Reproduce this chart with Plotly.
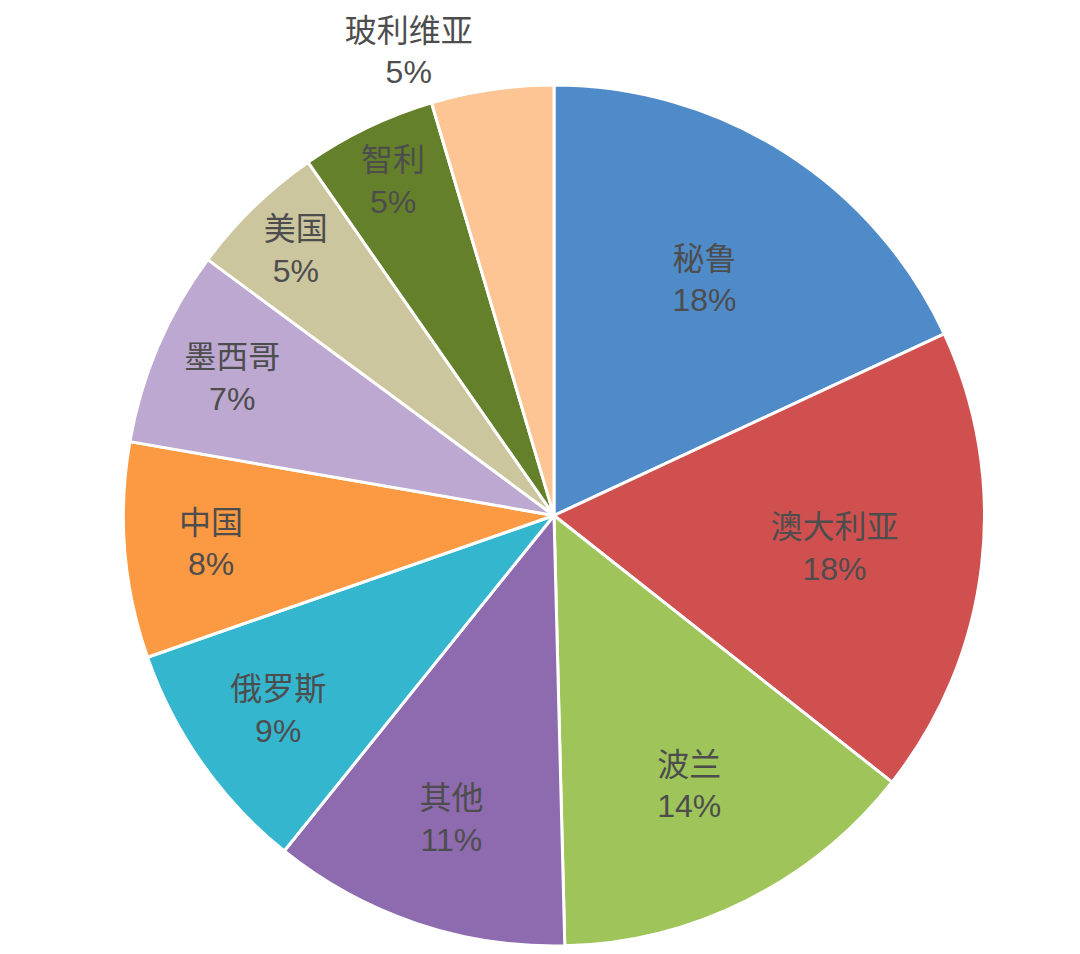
import plotly.graph_objects as go

# Data (share of output, %)
countries = ["秘鲁", "澳大利亚", "波兰", "其他", "俄罗斯", "中国", "墨西哥", "美国", "智利", "玻利维亚"]
shares = [18.1, 17.6, 14.0, 11.2, 8.9, 8.1, 7.4, 5.2, 5.1, 4.6]
colors = ["#4F8BC9", "#D05050", "#9FC55A", "#8E6BAF", "#35B6CF",
          "#FB9A42", "#BCA8D0", "#CCC69E", "#65802B", "#FDC593"]
text_pos = ["inside"] * 9 + ["outside"]

W, H = 1080, 954
label_font = dict(family="Liberation Sans, Noto Sans CJK SC", size=32, color="#4d4d4d")

fig = go.Figure(
    go.Pie(
        labels=countries,
        values=shares,
        sort=False,
        direction="clockwise",
        rotation=0,
        marker=dict(colors=colors, line=dict(color="white", width=3)),
        textposition=text_pos,
        texttemplate="%{label}<br>%{percent:.0%}",
        insidetextorientation="horizontal",
        insidetextfont=label_font,
        outsidetextfont=label_font,
        hoverinfo="label+percent",
        showlegend=False,
        domain=dict(x=[115 / W, 977 / W], y=[1 - 938 / H, 1 - 77 / H]),
    )
)

fig.update_layout(
    width=W,
    height=H,
    margin=dict(l=0, r=0, t=0, b=0),
    paper_bgcolor="white",
    plot_bgcolor="white",
    font=label_font,
)

fig.write_html("out.html")
